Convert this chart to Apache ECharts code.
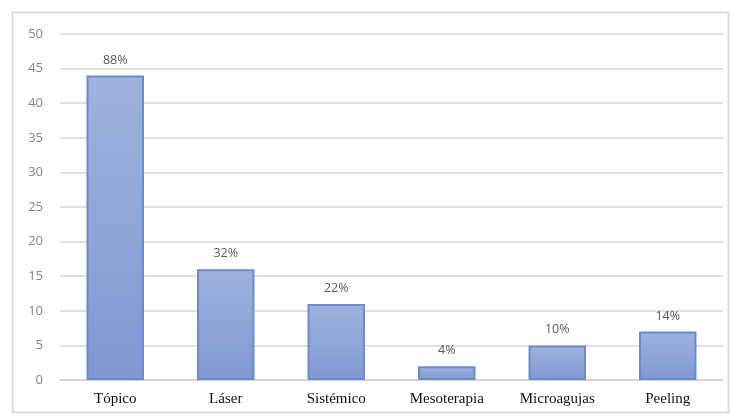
<!DOCTYPE html>
<html>
<head>
<meta charset="utf-8">
<script src="https://cdn.jsdelivr.net/npm/echarts@6/dist/echarts.min.js"></script>
<style>
html,body{margin:0;padding:0;background:#fff;}
#chart{width:733px;height:419px;}
</style>
</head>
<body>
<div id="chart"></div>
<script>
// categorías y valores
var categories = ['Tópico', 'Láser', 'Sistémico', 'Mesoterapia', 'Microagujas', 'Peeling'];
var values = [44, 16, 11, 2, 5, 7];
var percentLabels = ['88%', '32%', '22%', '4%', '10%', '14%'];

var myChart = echarts.init(document.getElementById('chart'));
var option = {
    animation: false,
    graphic: [{
        type: 'rect',
        shape: {x: 12.5, y: 12.5, width: 716, height: 400},
        style: {fill: 'none', stroke: '#dcdcdc', lineWidth: 2},
        silent: true
    }],
    grid: {
        left: 60,
        right: 10,
        top: 34,
        bottom: 39
    },
    xAxis: {
        type: 'category',
        data: categories,
        axisLine: {lineStyle: {color: '#d0d0d0', width: 1.5}},
        axisTick: {show: false},
        axisLabel: {
            color: '#111',
            fontFamily: 'Liberation Serif',
            fontSize: 15,
            margin: 12
        }
    },
    yAxis: {
        type: 'value',
        min: 0,
        max: 50,
        interval: 5,
        axisLine: {show: false},
        axisTick: {show: false},
        axisLabel: {
            color: '#858585',
            fontFamily: 'Open Sans',
            fontSize: 13,
            margin: 17
        },
        splitLine: {lineStyle: {color: '#d6d6d6', width: 1.5}}
    },
    series: [{
        type: 'bar',
        data: values,
        barWidth: '52%',
        itemStyle: {
            color: new echarts.graphic.LinearGradient(0, 0, 0, 1, [
                {offset: 0, color: '#9fb2de'},
                {offset: 1, color: '#8099d2'}
            ]),
            borderColor: '#6a8bcf',
            borderWidth: 2
        },
        label: {
            show: true,
            position: 'top',
            distance: 9,
            color: '#5a5a5a',
            fontFamily: 'Open Sans',
            fontSize: 12.5,
            formatter: function (p) { return percentLabels[p.dataIndex]; }
        }
    }]
};
myChart.setOption(option);
</script>
</body>
</html>
